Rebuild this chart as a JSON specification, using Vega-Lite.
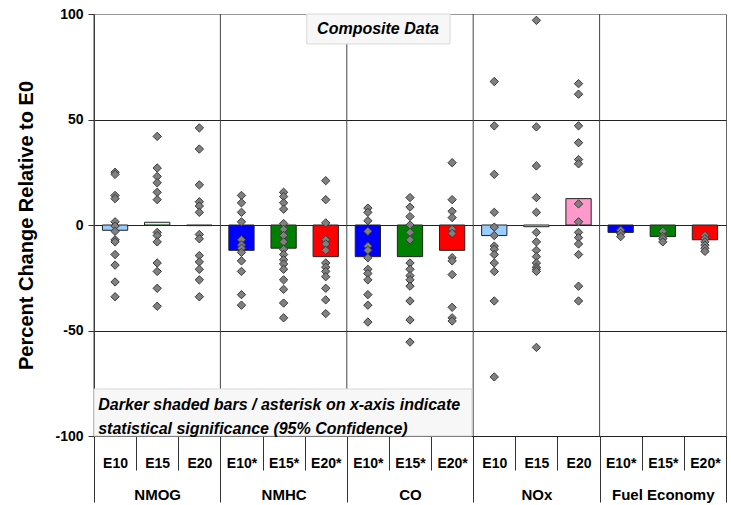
{
  "$schema": "https://vega.github.io/schema/vega-lite/v6.json",
  "width": 632,
  "height": 422,
  "autosize": {"type": "none"},
  "padding": {"left": 94, "top": 14, "right": 5, "bottom": 69},
  "config": {
    "view": {"stroke": "#666", "strokeWidth": 1},
    "font": "Liberation Sans",
    "axis": {"labelFont": "Liberation Sans", "titleFont": "Liberation Sans", "labelColor": "#000", "titleColor": "#000"}
  },
  "datasets": {
    "groups": [
      {"group": "NMOG"}, {"group": "NMHC"}, {"group": "CO"}, {"group": "NOx"}, {"group": "Fuel Economy"}
    ],
    "notes": [
      {"note": "annotation"}
    ],
    "bars": [
      {"key": "NMOG|E10", "fuel": "E10", "value": -2.5},
      {"key": "NMOG|E15", "fuel": "E15", "value": 1.3},
      {"key": "NMOG|E20", "fuel": "E20", "value": -0.3},
      {"key": "NMHC|E10*", "fuel": "E10*", "value": -12},
      {"key": "NMHC|E15*", "fuel": "E15*", "value": -11},
      {"key": "NMHC|E20*", "fuel": "E20*", "value": -15},
      {"key": "CO|E10*", "fuel": "E10*", "value": -15},
      {"key": "CO|E15*", "fuel": "E15*", "value": -15},
      {"key": "CO|E20*", "fuel": "E20*", "value": -12},
      {"key": "NOx|E10", "fuel": "E10", "value": -5},
      {"key": "NOx|E15", "fuel": "E15", "value": -0.8},
      {"key": "NOx|E20", "fuel": "E20", "value": 12.5},
      {"key": "Fuel Economy|E10*", "fuel": "E10*", "value": -3.5},
      {"key": "Fuel Economy|E15*", "fuel": "E15*", "value": -5.5},
      {"key": "Fuel Economy|E20*", "fuel": "E20*", "value": -7}
    ],
    "points": [
      {"key": "NMOG|E10", "value": 25}, {"key": "NMOG|E10", "value": 24}, {"key": "NMOG|E10", "value": 14}, {"key": "NMOG|E10", "value": 12.5}, {"key": "NMOG|E10", "value": 1.5}, {"key": "NMOG|E10", "value": -0.5}, {"key": "NMOG|E10", "value": -3}, {"key": "NMOG|E10", "value": -7}, {"key": "NMOG|E10", "value": -8}, {"key": "NMOG|E10", "value": -14}, {"key": "NMOG|E10", "value": -19}, {"key": "NMOG|E10", "value": -27}, {"key": "NMOG|E10", "value": -34},
      {"key": "NMOG|E15", "value": 42}, {"key": "NMOG|E15", "value": 27}, {"key": "NMOG|E15", "value": 23}, {"key": "NMOG|E15", "value": 20}, {"key": "NMOG|E15", "value": 15.5}, {"key": "NMOG|E15", "value": 12}, {"key": "NMOG|E15", "value": -3.5}, {"key": "NMOG|E15", "value": -5}, {"key": "NMOG|E15", "value": -8}, {"key": "NMOG|E15", "value": -18}, {"key": "NMOG|E15", "value": -22}, {"key": "NMOG|E15", "value": -30}, {"key": "NMOG|E15", "value": -38.5},
      {"key": "NMOG|E20", "value": 46}, {"key": "NMOG|E20", "value": 36}, {"key": "NMOG|E20", "value": 19}, {"key": "NMOG|E20", "value": 11}, {"key": "NMOG|E20", "value": 9}, {"key": "NMOG|E20", "value": 6}, {"key": "NMOG|E20", "value": -4.5}, {"key": "NMOG|E20", "value": -6.5}, {"key": "NMOG|E20", "value": -14.5}, {"key": "NMOG|E20", "value": -17.5}, {"key": "NMOG|E20", "value": -21}, {"key": "NMOG|E20", "value": -26}, {"key": "NMOG|E20", "value": -34},
      {"key": "NMHC|E10*", "value": 14}, {"key": "NMHC|E10*", "value": 10.5}, {"key": "NMHC|E10*", "value": 6}, {"key": "NMHC|E10*", "value": 1.5}, {"key": "NMHC|E10*", "value": -7}, {"key": "NMHC|E10*", "value": -9.5}, {"key": "NMHC|E10*", "value": -11}, {"key": "NMHC|E10*", "value": -13}, {"key": "NMHC|E10*", "value": -17}, {"key": "NMHC|E10*", "value": -22}, {"key": "NMHC|E10*", "value": -33}, {"key": "NMHC|E10*", "value": -38},
      {"key": "NMHC|E15*", "value": 15.5}, {"key": "NMHC|E15*", "value": 13.5}, {"key": "NMHC|E15*", "value": 10.5}, {"key": "NMHC|E15*", "value": 7.5}, {"key": "NMHC|E15*", "value": 0.7}, {"key": "NMHC|E15*", "value": -2}, {"key": "NMHC|E15*", "value": -5}, {"key": "NMHC|E15*", "value": -8}, {"key": "NMHC|E15*", "value": -11.5}, {"key": "NMHC|E15*", "value": -14}, {"key": "NMHC|E15*", "value": -16.5}, {"key": "NMHC|E15*", "value": -18.5}, {"key": "NMHC|E15*", "value": -21}, {"key": "NMHC|E15*", "value": -26}, {"key": "NMHC|E15*", "value": -30.5}, {"key": "NMHC|E15*", "value": -37}, {"key": "NMHC|E15*", "value": -44},
      {"key": "NMHC|E20*", "value": 21}, {"key": "NMHC|E20*", "value": 12}, {"key": "NMHC|E20*", "value": 1}, {"key": "NMHC|E20*", "value": -7}, {"key": "NMHC|E20*", "value": -9}, {"key": "NMHC|E20*", "value": -12}, {"key": "NMHC|E20*", "value": -18}, {"key": "NMHC|E20*", "value": -20}, {"key": "NMHC|E20*", "value": -22}, {"key": "NMHC|E20*", "value": -24.5}, {"key": "NMHC|E20*", "value": -30}, {"key": "NMHC|E20*", "value": -35.5}, {"key": "NMHC|E20*", "value": -42},
      {"key": "CO|E10*", "value": 8}, {"key": "CO|E10*", "value": 6}, {"key": "CO|E10*", "value": 2}, {"key": "CO|E10*", "value": -3}, {"key": "CO|E10*", "value": -10}, {"key": "CO|E10*", "value": -12}, {"key": "CO|E10*", "value": -15.5}, {"key": "CO|E10*", "value": -21}, {"key": "CO|E10*", "value": -23}, {"key": "CO|E10*", "value": -26}, {"key": "CO|E10*", "value": -33}, {"key": "CO|E10*", "value": -38}, {"key": "CO|E10*", "value": -46},
      {"key": "CO|E15*", "value": 13}, {"key": "CO|E15*", "value": 8.5}, {"key": "CO|E15*", "value": 4}, {"key": "CO|E15*", "value": 0}, {"key": "CO|E15*", "value": -3.5}, {"key": "CO|E15*", "value": -7}, {"key": "CO|E15*", "value": -18}, {"key": "CO|E15*", "value": -21}, {"key": "CO|E15*", "value": -24}, {"key": "CO|E15*", "value": -26}, {"key": "CO|E15*", "value": -29}, {"key": "CO|E15*", "value": -36}, {"key": "CO|E15*", "value": -45}, {"key": "CO|E15*", "value": -55.5},
      {"key": "CO|E20*", "value": 29.5}, {"key": "CO|E20*", "value": 12}, {"key": "CO|E20*", "value": 6.5}, {"key": "CO|E20*", "value": 3.5}, {"key": "CO|E20*", "value": -2}, {"key": "CO|E20*", "value": -4}, {"key": "CO|E20*", "value": -15.5}, {"key": "CO|E20*", "value": -17}, {"key": "CO|E20*", "value": -23.5}, {"key": "CO|E20*", "value": -39}, {"key": "CO|E20*", "value": -44}, {"key": "CO|E20*", "value": -45.5},
      {"key": "NOx|E10", "value": 68}, {"key": "NOx|E10", "value": 47}, {"key": "NOx|E10", "value": 24}, {"key": "NOx|E10", "value": 6}, {"key": "NOx|E10", "value": -1}, {"key": "NOx|E10", "value": -5}, {"key": "NOx|E10", "value": -10}, {"key": "NOx|E10", "value": -11.5}, {"key": "NOx|E10", "value": -14}, {"key": "NOx|E10", "value": -18}, {"key": "NOx|E10", "value": -22}, {"key": "NOx|E10", "value": -36}, {"key": "NOx|E10", "value": -72},
      {"key": "NOx|E15", "value": 97}, {"key": "NOx|E15", "value": 46.5}, {"key": "NOx|E15", "value": 28}, {"key": "NOx|E15", "value": 13}, {"key": "NOx|E15", "value": 6}, {"key": "NOx|E15", "value": -3.5}, {"key": "NOx|E15", "value": -8}, {"key": "NOx|E15", "value": -12}, {"key": "NOx|E15", "value": -15}, {"key": "NOx|E15", "value": -18}, {"key": "NOx|E15", "value": -20}, {"key": "NOx|E15", "value": -21}, {"key": "NOx|E15", "value": -22}, {"key": "NOx|E15", "value": -58},
      {"key": "NOx|E20", "value": 67}, {"key": "NOx|E20", "value": 62}, {"key": "NOx|E20", "value": 47}, {"key": "NOx|E20", "value": 39}, {"key": "NOx|E20", "value": 31}, {"key": "NOx|E20", "value": 29}, {"key": "NOx|E20", "value": 10}, {"key": "NOx|E20", "value": 1.5}, {"key": "NOx|E20", "value": -3.5}, {"key": "NOx|E20", "value": -6}, {"key": "NOx|E20", "value": -9}, {"key": "NOx|E20", "value": -14}, {"key": "NOx|E20", "value": -29}, {"key": "NOx|E20", "value": -36},
      {"key": "Fuel Economy|E10*", "value": -2.5}, {"key": "Fuel Economy|E10*", "value": -4}, {"key": "Fuel Economy|E10*", "value": -5.5},
      {"key": "Fuel Economy|E15*", "value": -3}, {"key": "Fuel Economy|E15*", "value": -5.5}, {"key": "Fuel Economy|E15*", "value": -6.5}, {"key": "Fuel Economy|E15*", "value": -8},
      {"key": "Fuel Economy|E20*", "value": -5}, {"key": "Fuel Economy|E20*", "value": -6.5}, {"key": "Fuel Economy|E20*", "value": -8}, {"key": "Fuel Economy|E20*", "value": -9.5}, {"key": "Fuel Economy|E20*", "value": -11}, {"key": "Fuel Economy|E20*", "value": -12.5}
    ]
  },
  "resolve": {"scale": {"x": "independent"}, "axis": {"x": "independent"}},
  "layer": [
    {
      "data": {"name": "groups"},
      "mark": {"type": "rule", "color": "#444", "strokeWidth": 1},
      "encoding": {
        "x": {
          "field": "group", "type": "nominal", "sort": null, "bandPosition": 0,
          "scale": {"domain": ["NMOG", "NMHC", "CO", "NOx", "Fuel Economy"], "paddingInner": 0, "paddingOuter": 0},
          "axis": {"orient": "bottom", "title": null, "domain": false, "grid": false, "tickBand": "extent", "tickSize": 66, "tickColor": "#333", "labelPadding": -15, "labelFontSize": 15, "labelFontWeight": "bold", "labelAngle": 0}
        }
      }
    },
    {
      "layer": [
        {
          "data": {"name": "bars"},
          "mark": {"type": "bar", "width": {"band": 0.6}, "stroke": "#222", "strokeWidth": 1},
          "encoding": {
            "x": {
              "field": "key", "type": "nominal", "sort": null,
              "scale": {"domain": ["NMOG|E10", "NMOG|E15", "NMOG|E20", "NMHC|E10*", "NMHC|E15*", "NMHC|E20*", "CO|E10*", "CO|E15*", "CO|E20*", "NOx|E10", "NOx|E15", "NOx|E20", "Fuel Economy|E10*", "Fuel Economy|E15*", "Fuel Economy|E20*"], "paddingInner": 0, "paddingOuter": 0},
              "axis": {"orient": "bottom", "title": null, "labelExpr": "split(datum.value, '|')[1]", "labelAngle": 0, "domain": false, "grid": false, "tickBand": "extent", "tickSize": 34, "tickColor": "#333", "labelPadding": -14, "labelFontSize": 14, "labelFontWeight": "bold"}
            },
            "y": {
              "field": "value", "type": "quantitative",
              "scale": {"domain": [-100, 100], "nice": false},
              "axis": {"values": [-100, -50, 0, 50, 100], "labelExpr": "datum.value < 0 ? '-' + abs(datum.value) : '' + datum.value", "title": "Percent Change Relative to E0", "titleFontSize": 20, "titleFontWeight": "bold", "titlePadding": 18, "labelFontSize": 14, "labelFontWeight": "bold", "tickSize": 6, "labelPadding": 5, "tickColor": "#333", "domainColor": "#333", "grid": true, "gridColor": {"condition": {"test": "datum.value == 100", "value": "#999"}, "value": "#222"}}
            },
            "color": {
              "field": "fuel", "type": "nominal", "legend": null,
              "scale": {"domain": ["E10", "E15", "E20", "E10*", "E15*", "E20*"], "range": ["#99CCFF", "#CCFFCC", "#FF99CC", "#0000FF", "#008000", "#FF0000"]}
            }
          }
        },
        {
          "data": {"name": "points"},
          "mark": {"type": "point", "shape": "diamond", "filled": true, "fill": "#808080", "stroke": "#3a3a3a", "strokeWidth": 1, "size": 70, "opacity": 1},
          "encoding": {
            "x": {"field": "key", "type": "nominal", "sort": null},
            "y": {"field": "value", "type": "quantitative"}
          }
        }
      ]
    },
    {
      "data": {"name": "notes"},
      "layer": [
        {
          "mark": {"type": "rect", "fill": "#f7f7f7", "stroke": "#d8d8d8", "strokeWidth": 1},
          "encoding": {
            "x": {"datum": 5.05, "type": "quantitative", "scale": {"domain": [0, 15], "nice": false, "zero": false}, "axis": null},
            "x2": {"datum": 8.45},
            "y": {"datum": 100, "type": "quantitative"},
            "y2": {"datum": 85.8}
          }
        },
        {
          "mark": {"type": "text", "text": "Composite Data", "font": "Liberation Sans", "fontSize": 16, "fontWeight": "bold", "fontStyle": "italic", "align": "center", "baseline": "middle", "color": "#000"},
          "encoding": {
            "x": {"datum": 6.74, "type": "quantitative", "axis": null},
            "y": {"datum": 92.9, "type": "quantitative"}
          }
        },
        {
          "mark": {"type": "rect", "fill": "#f7f7f7", "stroke": "#d8d8d8", "strokeWidth": 1},
          "encoding": {
            "x": {"datum": 0, "type": "quantitative", "axis": null},
            "x2": {"datum": 8.97},
            "y": {"datum": -77.7, "type": "quantitative"},
            "y2": {"datum": -100}
          }
        },
        {
          "mark": {"type": "text", "text": ["Darker shaded bars / asterisk on x-axis indicate", "statistical significance (95% Confidence)"], "lineHeight": 24, "font": "Liberation Sans", "fontSize": 16, "fontWeight": "bold", "fontStyle": "italic", "align": "left", "baseline": "top", "color": "#000"},
          "encoding": {
            "x": {"datum": 0.1, "type": "quantitative", "axis": null},
            "y": {"datum": -81.3, "type": "quantitative"}
          }
        }
      ]
    }
  ]
}
